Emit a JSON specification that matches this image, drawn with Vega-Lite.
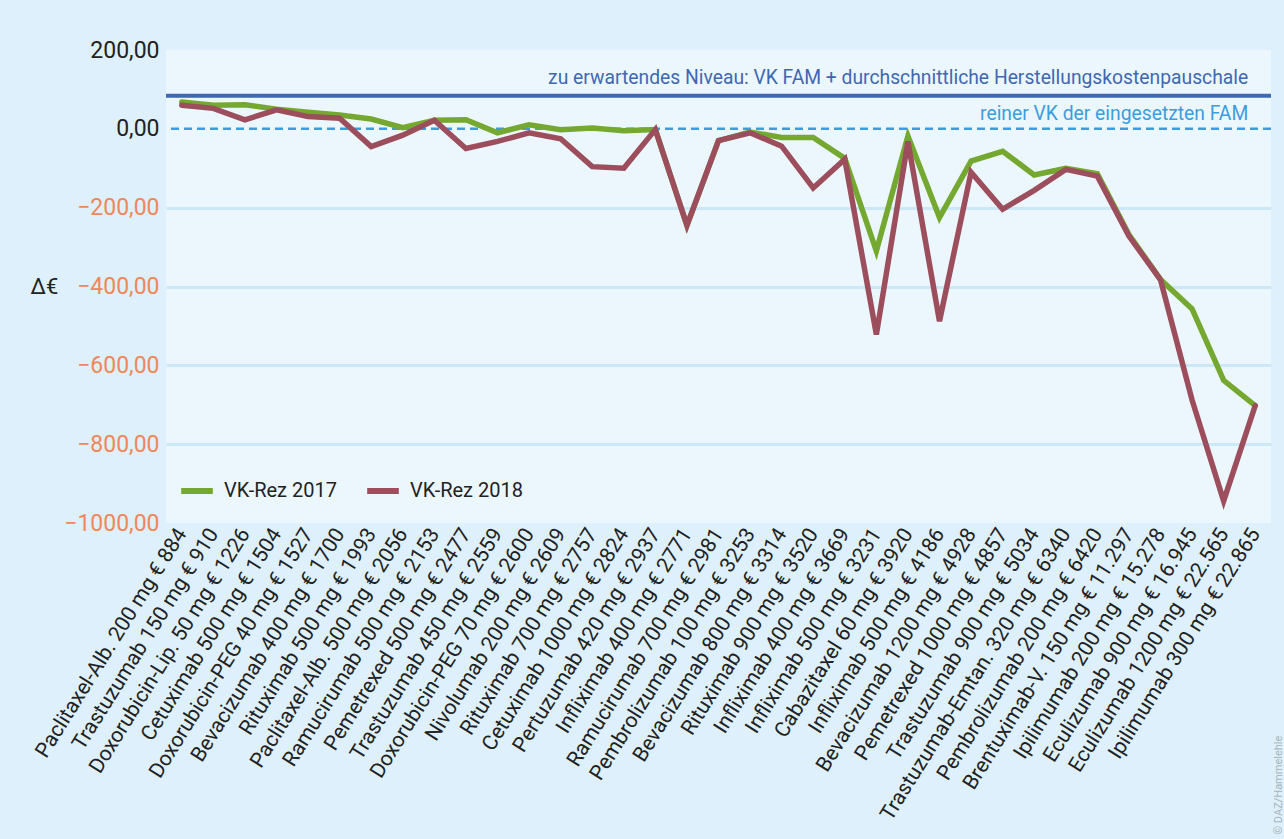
{
  "$schema": "https://vega.github.io/schema/vega-lite/v6.json",
  "width": 1105,
  "height": 473,
  "autosize": {"type": "none"},
  "padding": {"left": 166, "top": 50, "right": 13, "bottom": 316},
  "background": "#ddf0fb",
  "config": {"view": {"fill": "#ecf7fd", "stroke": null}, "font": "Roboto"},
  "datasets": {
    "rows": [
      {"drug": "Paclitaxel-Alb. 200 mg € 884", "year": "VK-Rez 2017", "value": 68},
      {"drug": "Trastuzumab 150 mg € 910", "year": "VK-Rez 2017", "value": 60},
      {"drug": "Doxorubicin-Lip. 50 mg € 1226", "year": "VK-Rez 2017", "value": 61},
      {"drug": "Cetuximab 500 mg € 1504", "year": "VK-Rez 2017", "value": 50},
      {"drug": "Doxorubicin-PEG 40 mg € 1527", "year": "VK-Rez 2017", "value": 42},
      {"drug": "Bevacizumab 400 mg € 1700", "year": "VK-Rez 2017", "value": 35},
      {"drug": "Rituximab 500 mg € 1993", "year": "VK-Rez 2017", "value": 25},
      {"drug": "Paclitaxel-Alb. 500 mg € 2056", "year": "VK-Rez 2017", "value": 3},
      {"drug": "Ramucirumab 500 mg € 2153", "year": "VK-Rez 2017", "value": 22},
      {"drug": "Pemetrexed 500 mg € 2477", "year": "VK-Rez 2017", "value": 23},
      {"drug": "Trastuzumab 450 mg € 2559", "year": "VK-Rez 2017", "value": -10},
      {"drug": "Doxorubicin-PEG 70 mg € 2600", "year": "VK-Rez 2017", "value": 10},
      {"drug": "Nivolumab 200 mg € 2609", "year": "VK-Rez 2017", "value": -2},
      {"drug": "Rituximab 700 mg € 2757", "year": "VK-Rez 2017", "value": 2},
      {"drug": "Cetuximab 1000 mg € 2824", "year": "VK-Rez 2017", "value": -5},
      {"drug": "Pertuzumab 420 mg € 2937", "year": "VK-Rez 2017", "value": -2},
      {"drug": "Infliximab 400 mg € 2771", "year": "VK-Rez 2017", "value": -245},
      {"drug": "Ramucirumab 700 mg € 2981", "year": "VK-Rez 2017", "value": -30},
      {"drug": "Pembrolizumab 100 mg € 3253", "year": "VK-Rez 2017", "value": -8},
      {"drug": "Bevacizumab 800 mg € 3314", "year": "VK-Rez 2017", "value": -22},
      {"drug": "Rituximab 900 mg € 3520", "year": "VK-Rez 2017", "value": -22},
      {"drug": "Infliximab 400 mg € 3669", "year": "VK-Rez 2017", "value": -75},
      {"drug": "Infliximab 500 mg € 3231", "year": "VK-Rez 2017", "value": -310},
      {"drug": "Cabazitaxel 60 mg € 3920", "year": "VK-Rez 2017", "value": -18},
      {"drug": "Infliximab 500 mg € 4186", "year": "VK-Rez 2017", "value": -225},
      {"drug": "Bevacizumab 1200 mg € 4928", "year": "VK-Rez 2017", "value": -82},
      {"drug": "Pemetrexed 1000 mg € 4857", "year": "VK-Rez 2017", "value": -57},
      {"drug": "Trastuzumab 900 mg € 5034", "year": "VK-Rez 2017", "value": -117},
      {"drug": "Trastuzumab-Emtan. 320 mg € 6340", "year": "VK-Rez 2017", "value": -100},
      {"drug": "Pembrolizumab 200 mg € 6420", "year": "VK-Rez 2017", "value": -114},
      {"drug": "Brentuximab-V. 150 mg € 11.297", "year": "VK-Rez 2017", "value": -268},
      {"drug": "Ipilimumab 200 mg € 15.278", "year": "VK-Rez 2017", "value": -382},
      {"drug": "Eculizumab 900 mg € 16.945", "year": "VK-Rez 2017", "value": -457},
      {"drug": "Eculizumab 1200 mg € 22.565", "year": "VK-Rez 2017", "value": -638},
      {"drug": "Ipilimumab 300 mg € 22.865", "year": "VK-Rez 2017", "value": -702},
      {"drug": "Paclitaxel-Alb. 200 mg € 884", "year": "VK-Rez 2018", "value": 60},
      {"drug": "Trastuzumab 150 mg € 910", "year": "VK-Rez 2018", "value": 52},
      {"drug": "Doxorubicin-Lip. 50 mg € 1226", "year": "VK-Rez 2018", "value": 23},
      {"drug": "Cetuximab 500 mg € 1504", "year": "VK-Rez 2018", "value": 48},
      {"drug": "Doxorubicin-PEG 40 mg € 1527", "year": "VK-Rez 2018", "value": 31},
      {"drug": "Bevacizumab 400 mg € 1700", "year": "VK-Rez 2018", "value": 27},
      {"drug": "Rituximab 500 mg € 1993", "year": "VK-Rez 2018", "value": -45},
      {"drug": "Paclitaxel-Alb. 500 mg € 2056", "year": "VK-Rez 2018", "value": -16},
      {"drug": "Ramucirumab 500 mg € 2153", "year": "VK-Rez 2018", "value": 22},
      {"drug": "Pemetrexed 500 mg € 2477", "year": "VK-Rez 2018", "value": -50},
      {"drug": "Trastuzumab 450 mg € 2559", "year": "VK-Rez 2018", "value": -32},
      {"drug": "Doxorubicin-PEG 70 mg € 2600", "year": "VK-Rez 2018", "value": -10},
      {"drug": "Nivolumab 200 mg € 2609", "year": "VK-Rez 2018", "value": -25},
      {"drug": "Rituximab 700 mg € 2757", "year": "VK-Rez 2018", "value": -96},
      {"drug": "Cetuximab 1000 mg € 2824", "year": "VK-Rez 2018", "value": -100},
      {"drug": "Pertuzumab 420 mg € 2937", "year": "VK-Rez 2018", "value": -2},
      {"drug": "Infliximab 400 mg € 2771", "year": "VK-Rez 2018", "value": -245},
      {"drug": "Ramucirumab 700 mg € 2981", "year": "VK-Rez 2018", "value": -30},
      {"drug": "Pembrolizumab 100 mg € 3253", "year": "VK-Rez 2018", "value": -10},
      {"drug": "Bevacizumab 800 mg € 3314", "year": "VK-Rez 2018", "value": -44},
      {"drug": "Rituximab 900 mg € 3520", "year": "VK-Rez 2018", "value": -150},
      {"drug": "Infliximab 400 mg € 3669", "year": "VK-Rez 2018", "value": -77},
      {"drug": "Infliximab 500 mg € 3231", "year": "VK-Rez 2018", "value": -522},
      {"drug": "Cabazitaxel 60 mg € 3920", "year": "VK-Rez 2018", "value": -32},
      {"drug": "Infliximab 500 mg € 4186", "year": "VK-Rez 2018", "value": -488},
      {"drug": "Bevacizumab 1200 mg € 4928", "year": "VK-Rez 2018", "value": -110},
      {"drug": "Pemetrexed 1000 mg € 4857", "year": "VK-Rez 2018", "value": -204},
      {"drug": "Trastuzumab 900 mg € 5034", "year": "VK-Rez 2018", "value": -156},
      {"drug": "Trastuzumab-Emtan. 320 mg € 6340", "year": "VK-Rez 2018", "value": -103},
      {"drug": "Pembrolizumab 200 mg € 6420", "year": "VK-Rez 2018", "value": -120},
      {"drug": "Brentuximab-V. 150 mg € 11.297", "year": "VK-Rez 2018", "value": -272},
      {"drug": "Ipilimumab 200 mg € 15.278", "year": "VK-Rez 2018", "value": -383},
      {"drug": "Eculizumab 900 mg € 16.945", "year": "VK-Rez 2018", "value": -688},
      {"drug": "Eculizumab 1200 mg € 22.565", "year": "VK-Rez 2018", "value": -944},
      {"drug": "Ipilimumab 300 mg € 22.865", "year": "VK-Rez 2018", "value": -702}
    ],
    "levels": [
      {"drug": "Ipilimumab 300 mg € 22.865", "value": 84, "label": "zu erwartendes Niveau: VK FAM + durchschnittliche Herstellungskostenpauschale", "kind": "a"},
      {"drug": "Ipilimumab 300 mg € 22.865", "value": 0, "label": "reiner VK der eingesetzten FAM", "kind": "b"}
    ]
  },
  "layer": [
    {
      "data": {"name": "levels"},
      "transform": [{"filter": "datum.kind == 'b'"}],
      "mark": {"type": "rule", "color": "#3b9ddb", "strokeWidth": 2.5, "strokeDash": [8, 5]},
      "encoding": {
        "y": {
          "field": "value",
          "type": "quantitative",
          "axis": {
            "orient": "right",
            "title": "© DAZ/Hammelehle",
            "labels": false,
            "ticks": false,
            "domain": false,
            "grid": false,
            "titleFontSize": 11,
            "titleFontWeight": "normal",
            "titleColor": "#aab5bc",
            "titleAngle": -90,
            "titleX": 7,
            "titleY": 784,
            "titleAlign": "left",
            "titleBaseline": "middle"
          }
        }
      }
    },
    {
      "data": {"name": "levels"},
      "transform": [{"filter": "datum.kind == 'a'"}],
      "mark": {"type": "rule", "color": "#3f68b2", "strokeWidth": 4},
      "encoding": {"y": {"field": "value", "type": "quantitative", "axis": null}}
    },
    {
      "data": {"name": "rows"},
      "mark": {"type": "line", "strokeWidth": 5.5, "strokeJoin": "miter", "strokeCap": "round"},
      "encoding": {
        "x": {
          "field": "drug",
          "type": "nominal",
          "sort": null,
          "scale": {
            "type": "point",
            "padding": 0.5,
            "domain": ["Paclitaxel-Alb. 200 mg € 884", "Trastuzumab 150 mg € 910", "Doxorubicin-Lip. 50 mg € 1226", "Cetuximab 500 mg € 1504", "Doxorubicin-PEG 40 mg € 1527", "Bevacizumab 400 mg € 1700", "Rituximab 500 mg € 1993", "Paclitaxel-Alb. 500 mg € 2056", "Ramucirumab 500 mg € 2153", "Pemetrexed 500 mg € 2477", "Trastuzumab 450 mg € 2559", "Doxorubicin-PEG 70 mg € 2600", "Nivolumab 200 mg € 2609", "Rituximab 700 mg € 2757", "Cetuximab 1000 mg € 2824", "Pertuzumab 420 mg € 2937", "Infliximab 400 mg € 2771", "Ramucirumab 700 mg € 2981", "Pembrolizumab 100 mg € 3253", "Bevacizumab 800 mg € 3314", "Rituximab 900 mg € 3520", "Infliximab 400 mg € 3669", "Infliximab 500 mg € 3231", "Cabazitaxel 60 mg € 3920", "Infliximab 500 mg € 4186", "Bevacizumab 1200 mg € 4928", "Pemetrexed 1000 mg € 4857", "Trastuzumab 900 mg € 5034", "Trastuzumab-Emtan. 320 mg € 6340", "Pembrolizumab 200 mg € 6420", "Brentuximab-V. 150 mg € 11.297", "Ipilimumab 200 mg € 15.278", "Eculizumab 900 mg € 16.945", "Eculizumab 1200 mg € 22.565", "Ipilimumab 300 mg € 22.865"]
          },
          "axis": {
            "title": null,
            "labelAngle": -58,
            "labelAlign": "right",
            "labelBaseline": "middle",
            "labelFontSize": 21,
            "labelColor": "#222222",
            "labelLimit": 0,
            "labelPadding": 7,
            "ticks": false,
            "domain": false,
            "grid": false
          }
        },
        "y": {
          "field": "value",
          "type": "quantitative",
          "scale": {"domain": [-1000, 200], "nice": false, "zero": false},
          "axis": {
            "orient": "left",
            "values": [200, 0, -200, -400, -600, -800, -1000],
            "labelExpr": "(datum.value < 0 ? '−' : '') + replace(format(abs(datum.value), '.2f'), '.', ',')",
            "labelFontSize": 23,
            "labelColor": {"condition": {"test": "datum.value < 0", "value": "#f0875a"}, "value": "#222222"},
            "labelFlush": false,
            "labelPadding": 7,
            "ticks": false,
            "domain": false,
            "grid": true,
            "gridColor": "#cce8f8",
            "gridWidth": 3,
            "gridOpacity": {"condition": {"test": "datum.value < 0 && datum.value > -1000", "value": 1}, "value": 0},
            "title": "Δ€",
            "titleAngle": 0,
            "titleFontSize": 22,
            "titleFontWeight": "normal",
            "titleColor": "#222222",
            "titleX": -108,
            "titleY": 236,
            "titleAlign": "right",
            "titleBaseline": "middle"
          }
        },
        "color": {
          "field": "year",
          "type": "nominal",
          "scale": {"domain": ["VK-Rez 2017", "VK-Rez 2018"], "range": ["#74a830", "#9c4e5d"]},
          "legend": {
            "title": null,
            "orient": "none",
            "legendX": 12,
            "legendY": 422,
            "direction": "horizontal",
            "symbolType": "stroke",
            "symbolStrokeWidth": 6,
            "symbolSize": 1000,
            "labelFontSize": 20,
            "labelColor": "#222222",
            "labelOffset": 8,
            "columnPadding": 18
          }
        }
      }
    },
    {
      "data": {"name": "levels"},
      "transform": [{"filter": "datum.kind == 'a'"}],
      "mark": {"type": "text", "align": "right", "baseline": "alphabetic", "fontSize": 19.3, "dx": -7, "dy": -12, "color": "#3f68b2"},
      "encoding": {
        "x": {"field": "drug", "type": "nominal"},
        "y": {"field": "value", "type": "quantitative", "axis": null},
        "text": {"field": "label"}
      }
    },
    {
      "data": {"name": "levels"},
      "transform": [{"filter": "datum.kind == 'b'"}],
      "mark": {"type": "text", "align": "right", "baseline": "alphabetic", "fontSize": 19.3, "dx": -7, "dy": -9, "color": "#3b9ddb"},
      "encoding": {
        "x": {"field": "drug", "type": "nominal"},
        "y": {"field": "value", "type": "quantitative", "axis": null},
        "text": {"field": "label"}
      }
    }
  ],
  "resolve": {"scale": {"color": "independent"}, "axis": {"y": "independent"}}
}
